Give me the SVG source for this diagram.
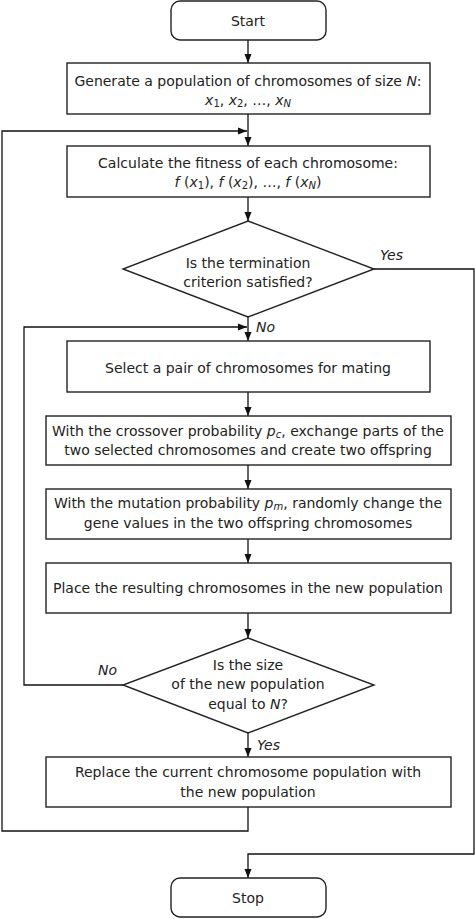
<svg xmlns="http://www.w3.org/2000/svg" width="475" height="919" viewBox="0 0 475 919">
<defs>
<marker id="ah" markerWidth="10" markerHeight="8" refX="9" refY="4" orient="auto" markerUnits="userSpaceOnUse">
<path d="M0,0.5 L9,4 L0,7.5 Z" fill="#111"/>
</marker>
<style>
.box{fill:#fff;stroke:#222;stroke-width:1.4}
.ln{fill:none;stroke:#111;stroke-width:1.3}
.t{font-family:"DejaVu Sans",Verdana,sans-serif;font-size:14px;fill:#222;text-anchor:middle}
.i{font-style:italic}
.s{font-size:10px}
.lb{font-family:"DejaVu Sans",Verdana,sans-serif;font-size:14px;fill:#222;font-style:italic}
</style>
</defs>
<rect width="475" height="919" fill="#fff"/>
<g id="connectors">
<line class="ln" x1="248" y1="40" x2="248" y2="63" marker-end="url(#ah)"/>
<line class="ln" x1="248" y1="114" x2="248" y2="146" marker-end="url(#ah)"/>
<line class="ln" x1="248" y1="197" x2="248" y2="221" marker-end="url(#ah)"/>
<polyline class="ln" points="248,807 248,831 2,831 2,131 247,131" marker-end="url(#ah)"/>
<line class="ln" x1="248" y1="317" x2="248" y2="341" marker-end="url(#ah)"/>
<polyline class="ln" points="374,269 474,269 474,854 248,854 248,878" marker-end="url(#ah)"/>
<line class="ln" x1="248" y1="392" x2="248" y2="416" marker-end="url(#ah)"/>
<line class="ln" x1="248" y1="465" x2="248" y2="489" marker-end="url(#ah)"/>
<line class="ln" x1="248" y1="539" x2="248" y2="563" marker-end="url(#ah)"/>
<line class="ln" x1="248" y1="613" x2="248" y2="638" marker-end="url(#ah)"/>
<polyline class="ln" points="123,685 24,685 24,327 247,327" marker-end="url(#ah)"/>
<line class="ln" x1="248" y1="733" x2="248" y2="757" marker-end="url(#ah)"/>
<text class="lb" x="380" y="260">Yes</text>
<text class="lb" x="256" y="332">No</text>
<text class="lb" x="98" y="675">No</text>
<text class="lb" x="257" y="750">Yes</text>
</g>
<g id="start">
<rect class="box" x="171" y="1" width="155" height="39" rx="9"/>
<text class="t" x="248" y="26">Start</text>
</g>
<g id="generate">
<rect class="box" x="67" y="63" width="363" height="51"/>
<text class="t" x="248" y="86">Generate a population of chromosomes of size <tspan class="i">N</tspan>:</text>
<text class="t" x="248" y="105"><tspan class="i">x</tspan><tspan class="s" dy="2">1</tspan><tspan dy="-2">, </tspan><tspan class="i">x</tspan><tspan class="s" dy="2">2</tspan><tspan dy="-2">, …, </tspan><tspan class="i">x</tspan><tspan class="s i" dy="2">N</tspan></text>
</g>
<g id="fitness">
<rect class="box" x="67" y="146" width="363" height="51"/>
<text class="t" x="248" y="168">Calculate the fitness of each chromosome:</text>
<text class="t" x="248" y="187"><tspan class="i">f</tspan> (<tspan class="i">x</tspan><tspan class="s" dy="2">1</tspan><tspan dy="-2">), </tspan><tspan class="i">f</tspan> (<tspan class="i">x</tspan><tspan class="s" dy="2">2</tspan><tspan dy="-2">), …, </tspan><tspan class="i">f</tspan> (<tspan class="i">x</tspan><tspan class="s i" dy="2">N</tspan><tspan dy="-2">)</tspan></text>
</g>
<g id="termination">
<polygon class="box" points="248,221 374,269 248,317 123,269"/>
<text class="t" x="248" y="268">Is the termination</text>
<text class="t" x="248" y="287">criterion satisfied?</text>
</g>
<g id="select">
<rect class="box" x="67" y="341" width="363" height="51"/>
<text class="t" x="248" y="373">Select a pair of chromosomes for mating</text>
</g>
<g id="crossover">
<rect class="box" x="46" y="416" width="405" height="49"/>
<text class="t" x="248" y="436">With the crossover probability <tspan class="i">p</tspan><tspan class="s i" dy="2">c</tspan><tspan dy="-2">, exchange parts of the</tspan></text>
<text class="t" x="248" y="455">two selected chromosomes and create two offspring</text>
</g>
<g id="mutation">
<rect class="box" x="46" y="489" width="405" height="50"/>
<text class="t" x="248" y="508">With the mutation probability <tspan class="i">p</tspan><tspan class="s i" dy="2">m</tspan><tspan dy="-2">, randomly change the</tspan></text>
<text class="t" x="248" y="528">gene values in the two offspring chromosomes</text>
</g>
<g id="place">
<rect class="box" x="46" y="563" width="405" height="50"/>
<text class="t" x="248" y="593">Place the resulting chromosomes in the new population</text>
</g>
<g id="size-check">
<polygon class="box" points="248,638 374,685 248,733 123,685"/>
<text class="t" x="248" y="670">Is the size</text>
<text class="t" x="248" y="689">of the new population</text>
<text class="t" x="248" y="709">equal to <tspan class="i">N</tspan>?</text>
</g>
<g id="replace">
<rect class="box" x="46" y="757" width="405" height="50"/>
<text class="t" x="248" y="777">Replace the current chromosome population with</text>
<text class="t" x="248" y="797">the new population</text>
</g>
<g id="stop">
<rect class="box" x="171" y="878" width="155" height="39" rx="9"/>
<text class="t" x="248" y="903">Stop</text>
</g>
</svg>
